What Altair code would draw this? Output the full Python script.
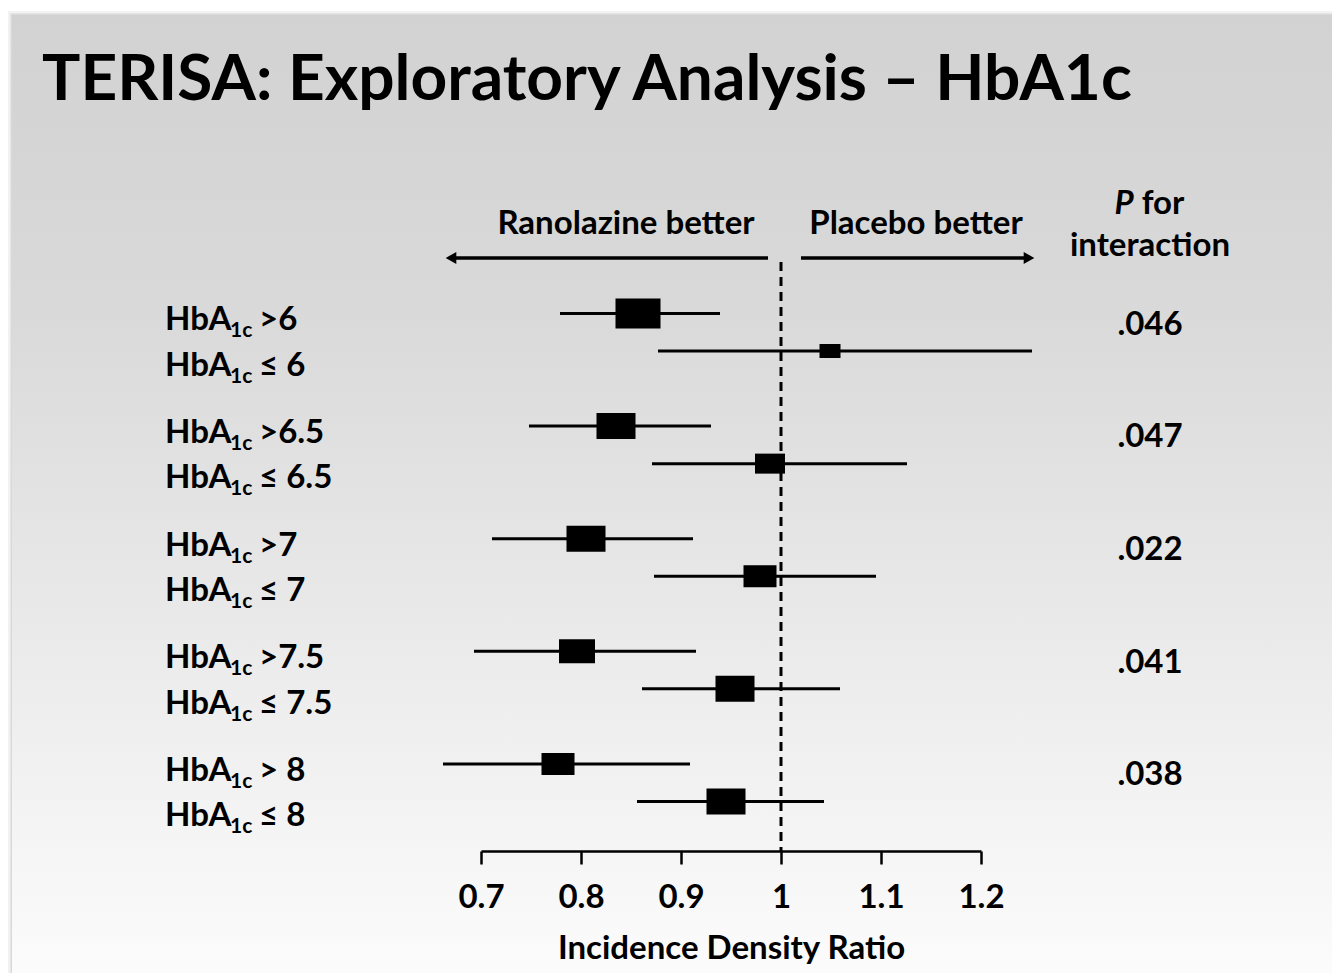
import altair as alt
import pandas as pd

# ---- data -------------------------------------------------------------
groups = [0, 0, 1, 1, 2, 2, 3, 3, 4, 4]
subrows = [0, 1, 0, 1, 0, 1, 0, 1, 0, 1]
thresholds = [">6", "≤ 6", ">6.5", "≤ 6.5", ">7", "≤ 7", ">7.5", "≤ 7.5", "> 8", "≤ 8"]
ratio = [0.857, 1.049, 0.835, 0.989, 0.805, 0.979, 0.796, 0.954, 0.777, 0.945]
ci_low = [0.779, 0.877, 0.748, 0.871, 0.711, 0.873, 0.693, 0.861, 0.662, 0.856]
ci_high = [0.939, 1.251, 0.930, 1.126, 0.912, 1.095, 0.915, 1.059, 0.909, 1.043]
weight = [45, 21, 39, 30, 39, 33, 36, 39, 33, 39]
p_interaction = [".046", ".047", ".022", ".041", ".038"]
tick_values = [0.7, 0.8, 0.9, 1.0, 1.1, 1.2]

FONT = "Lato"
INK = "#000000"
FS = 33

rows = pd.DataFrame({
    "group": groups,
    "sub": subrows,
    "threshold": thresholds,
    "ratio": ratio,
    "lo": ci_low,
    "hi": ci_high,
    "weight": weight,
})
rows["pos"] = rows["group"] + rows["sub"] / 3.0
rows["label_pos"] = rows["pos"] + 0.15 + 0.07 * rows["sub"]

pvals = pd.DataFrame({"group": list(range(len(p_interaction))), "p": p_interaction})
pvals["pos"] = pvals["group"] + 0.19

one = pd.DataFrame({"k": [0]})

# ---- scales ------------------------------------------------------------
x_scale = alt.Scale(domain=[0.7, 1.2], nice=False, zero=False)
y_scale = alt.Scale(domain=[-2.784, 4.7735], nice=False, zero=False, reverse=True)
x_axis = alt.Axis(
    values=tick_values, format="~g", grid=False, zindex=2,
    labelFlush=False, labelOverlap=False,
    title="Incidence Density Ratio",
    labelFont=FONT, labelFontSize=FS, labelFontWeight="bold", labelColor=INK,
    labelPadding=17, titleFont=FONT, titleFontSize=FS, titleFontWeight="bold",
    titleColor=INK, titlePadding=18,
    domainColor=INK, domainWidth=2.5, tickColor=INK, tickWidth=2.5, tickSize=13,
)

# offsets of free-standing items, in pixels from the plot origin
OX = 481

# ---- background panel -------------------------------------------------
shadow = alt.layer(*[
    alt.Chart(one).mark_rect(color="#000000", opacity=0.05).encode(
        x=alt.value(12 - OX - d), x2=alt.value(1332 - OX + 5),
        y=alt.value(15 - d), y2=alt.value(980),
    )
    for d in (4, 2, 1)
])

panel = alt.Chart(one).mark_rect(
    color=alt.LinearGradient(
        gradient="linear", x1=0, x2=0, y1=0, y2=1,
        stops=[
            alt.GradientStop(offset=0.0, color="#d2d2d2"),
            alt.GradientStop(offset=0.3, color="#d9d9d9"),
            alt.GradientStop(offset=0.6, color="#e8e8e8"),
            alt.GradientStop(offset=1.0, color="#fcfcfc"),
        ],
    )
).encode(
    x=alt.value(12 - OX), x2=alt.value(1332 - OX + 5),
    y=alt.value(15), y2=alt.value(980),
)

# ---- headings ---------------------------------------------------------
def text_at(txt, x, y, size=FS, align="left", style="normal"):
    return alt.Chart(one).mark_text(
        text=txt, font=FONT, fontSize=size, fontWeight="bold", fontStyle=style,
        color=INK, align=align, baseline="alphabetic",
    ).encode(x=alt.value(x - OX), y=alt.value(y))

title = text_at("TERISA: Exploratory Analysis – HbA1c", 42, 100, size=64)
left_head = text_at("Ranolazine better", 626, 234, align="center")
right_head = text_at("Placebo better", 916, 234, align="center")
p_head_p = text_at("P", 1124, 214, style="italic", align="center")
p_head_for = text_at("for", 1163, 214, align="center")
p_head_int = text_at("interaction", 1150, 256, align="center")

# direction arrows above the plot
arrow_y = 258
arrows = alt.layer(
    alt.Chart(one).mark_rule(color=INK, strokeWidth=3.5).encode(
        x=alt.X(datum=0.987, scale=x_scale, axis=x_axis),
        x2=alt.X2(datum=0.672), y=alt.value(arrow_y),
    ),
    alt.Chart(one).mark_rule(color=INK, strokeWidth=3.5).encode(
        x=alt.X(datum=1.020, scale=x_scale, axis=x_axis),
        x2=alt.X2(datum=1.244), y=alt.value(arrow_y),
    ),
    alt.Chart(one).mark_point(shape="triangle-left", filled=True, size=150,
                              color=INK, opacity=1).encode(
        x=alt.X(datum=0.670, scale=x_scale, axis=x_axis), y=alt.value(arrow_y),
    ),
    alt.Chart(one).mark_point(shape="triangle-right", filled=True, size=150,
                              color=INK, opacity=1).encode(
        x=alt.X(datum=1.248, scale=x_scale, axis=x_axis), y=alt.value(arrow_y),
    ),
)

# ---- forest plot ------------------------------------------------------
null_line = alt.Chart(one).mark_rule(
    color=INK, strokeWidth=3, strokeDash=[9, 6]
).encode(
    x=alt.X(datum=1.0, scale=x_scale, axis=x_axis),
    y=alt.value(262), y2=alt.value(851),
)

base = alt.Chart(rows)

ci = base.mark_rule(color=INK, strokeWidth=3).encode(
    x=alt.X("lo:Q", scale=x_scale, axis=x_axis),
    x2="hi:Q",
    y=alt.Y("pos:Q", scale=y_scale, axis=None),
)

box_path = "M-1,-0.667L1,-0.667L1,0.667L-1,0.667Z"
boxes = base.mark_point(
    shape=box_path, filled=True, color=INK, opacity=1, strokeWidth=1,
).encode(
    x=alt.X("ratio:Q", scale=x_scale, axis=x_axis),
    y=alt.Y("pos:Q", scale=y_scale, axis=None),
    size=alt.Size("weight:Q", scale=alt.Scale(type="pow", exponent=2,
                  domain=[0, 45], range=[0, 2025]), legend=None),
)

# row labels: "HbA" + subscript "1c" + threshold
lab_main = base.mark_text(
    text="HbA", font=FONT, fontSize=FS, fontWeight="bold", color=INK,
    align="left", baseline="alphabetic",
).encode(x=alt.value(165 - OX), y=alt.Y("label_pos:Q", scale=y_scale, axis=None))

lab_sub = base.mark_text(
    text="1c", font=FONT, fontSize=21, fontWeight="bold", color=INK,
    align="left", baseline="alphabetic", dy=7,
).encode(x=alt.value(230 - OX), y=alt.Y("label_pos:Q", scale=y_scale, axis=None))

lab_thr = base.mark_text(
    font=FONT, fontSize=FS, fontWeight="bold", color=INK,
    align="left", baseline="alphabetic",
).encode(
    x=alt.value(259 - OX),
    y=alt.Y("label_pos:Q", scale=y_scale, axis=None),
    text="threshold:N",
)

p_text = alt.Chart(pvals).mark_text(
    font=FONT, fontSize=FS, fontWeight="bold", color=INK,
    align="center", baseline="alphabetic",
).encode(
    x=alt.value(1150 - OX),
    y=alt.Y("pos:Q", scale=y_scale, axis=None),
    text="p:N",
)

chart = alt.layer(
    shadow, panel, title, left_head, right_head, p_head_p, p_head_for, p_head_int,
    arrows, null_line, ci, boxes, lab_main, lab_sub, lab_thr, p_text,
).properties(
    width=500, height=851,
    padding={"left": OX, "top": 0, "right": 1332 - 981, "bottom": 973 - 851},
    autosize="none",
    background="#ffffff",
).configure_view(stroke=None)

chart.save("out.html", embed_options={"renderer": "svg", "actions": False})
